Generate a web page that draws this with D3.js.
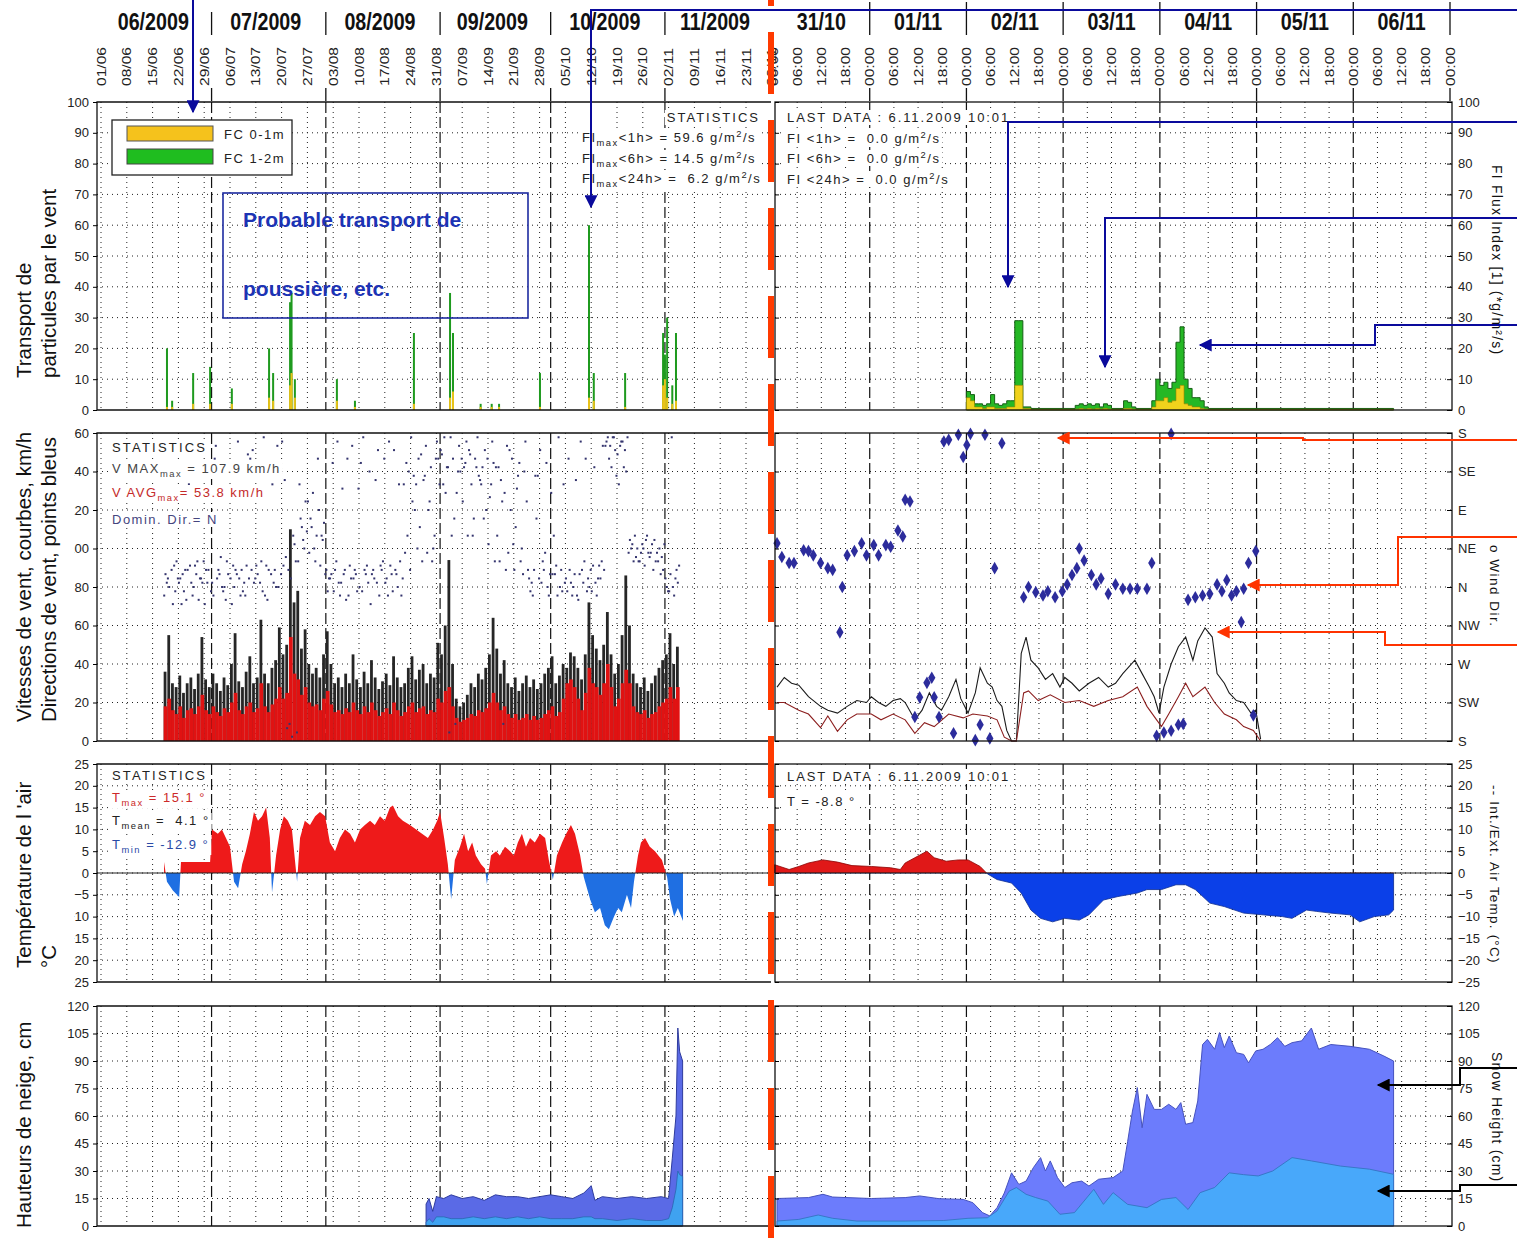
<!DOCTYPE html>
<html>
<head>
<meta charset="utf-8">
<title>Station - transport, vent, température, neige</title>
<script src="https://cdn.jsdelivr.net/npm/d3@7"></script>
<style>
  body     { margin: 0; background: #fff; }
  svg text { font-family: "Liberation Sans", Arial, sans-serif; white-space: pre; }
</style>
</head>
<body>
<script>

// ---------------------------------------------------------------- labels / ticks
var monthLabels   = ["06/2009", "07/2009", "08/2009", "09/2009", "10/2009", "11/2009"];
var dayLabels     = ["31/10", "01/11", "02/11", "03/11", "04/11", "05/11", "06/11"];
var fluxTicks     = [0, 10, 20, 30, 40, 50, 60, 70, 80, 90, 100];
var windTicks     = [0, 20, 40, 60, 80, 100, 120, 140, 160];
var dirTicks      = [0, 45, 90, 135, 180, 225, 270, 315, 360];
var dirLabels     = ["S", "SW", "W", "NW", "N", "NE", "E", "SE", "S"];
var tempTicks     = [-25, -20, -15, -10, -5, 0, 5, 10, 15, 20, 25];
var snowTicks     = [0, 15, 30, 45, 60, 75, 90, 105, 120];

// ---------------------------------------------------------------- left chart (days after 01/06/2009)
// flux index spikes
var fluxLeftDay   = [17.9, 19.3, 25.0, 29.6, 35.5, 45.6, 46.7, 51.3, 51.7, 52.6, 64.0, 68.9, 84.9, 94.7,
                     95.5, 103, 106, 108, 119.1, 132.4, 133.7, 142.2, 152.5, 153.0, 153.6, 155.0, 156.0];
var fluxLeftFC12  = [20, 3, 12, 14, 7, 20, 12, 35, 38, 10, 10, 3, 25, 38, 25, 2, 2, 2, 12, 60, 12, 12, 25, 18, 30, 8, 25];
var fluxLeftFC01  = [1, 1, 2, 2, 2, 4, 3, 8, 12, 4, 3, 1, 2, 4, 6, 1, 1, 1, 1, 4, 3, 1, 8, 10, 4, 2, 3];

// daily wind, first day = 18/06 (day 17)
var windStartDay  = 17;
var windMax = [
    36, 55, 30, 28, 34, 25, 30, 33, 27, 35,   54, 32, 28, 35, 30, 26, 33, 29, 40, 56,
    31, 28, 36, 44, 30, 33, 63, 35, 30, 38,   42, 59, 45, 50, 110, 72, 78, 48, 58, 40,
    35, 38, 33, 45, 57, 40, 30, 33, 28, 35,   30, 45, 32, 28, 36, 30, 42, 33, 27, 31,
    35, 29, 44, 33, 28, 30, 38, 44, 32, 37,   40, 30, 35, 33, 51, 45, 60, 94, 40, 22,
    18, 20, 24, 30, 28, 35, 32, 38, 45, 64,   48, 35, 42, 30, 28, 33, 26, 30, 34, 28,
    32, 27, 30, 35, 38, 44, 30, 34, 40, 38,   46, 44, 38, 32, 45, 72, 55, 48, 42, 50,
    67, 45, 35, 40, 55, 86, 60, 35, 30, 28,   33, 26, 30, 34, 38, 42, 45, 56, 40, 49];
var windAvg = [
    18, 22, 16, 14, 18, 12, 16, 17, 14, 18,   24, 16, 14, 18, 15, 13, 17, 15, 20, 25,
    16, 14, 18, 20, 15, 17, 30, 18, 15, 19,   22, 28, 22, 25, 54, 35, 32, 24, 28, 20,
    18, 19, 16, 22, 26, 19, 15, 16, 14, 17,   15, 20, 16, 14, 18, 15, 20, 16, 13, 15,
    17, 14, 20, 16, 13, 15, 18, 20, 15, 17,   18, 14, 16, 15, 22, 20, 26, 28, 18, 12,
    10, 11, 12, 14, 13, 16, 15, 17, 20, 25,   20, 16, 18, 14, 12, 14, 11, 12, 14, 11,
    13, 11, 12, 14, 16, 18, 13, 15, 22, 30,   32, 28, 22, 16, 25, 38, 30, 28, 24, 30,
    40, 28, 18, 22, 30, 37, 30, 18, 15, 14,   16, 12, 14, 15, 18, 20, 22, 28, 22, 28];
// wind direction (compass degrees), three readings a day
var dirMorning = [
    350, 10, 20, 355, 5, 15, 345, 25, 0, 30,      10, 340, 20, 5, 165, 15, 355, 30, 10, 0,
    170, 20, 350, 10, 160, 25, 5, 175, 345, 15,   20, 0, 170, 35, 200, 60, 190, 80, 45, 100,
    70, 30, 90, 55, 20, 10, 355, 170, 5, 20,      350, 165, 15, 0, 175, 25, 340, 10, 160, 20,
    5, 170, 355, 15, 30, 120, 60, 175, 90, 150,   30, 165, 100, 45, 170, 160, 175, 140, 60, 200,
    165, 100, 170, 155, 80, 175, 120, 160, 50, 170, 140, 30, 200, 165, 90, 20, 130, 45, 170, 10,
    350, 80, 160, 20, 0, 110, 15, 175, 355, 10,   20, 0, 350, 170, 30, 10, 355, 5, 25, 165,
    170, 165, 175, 155, 170, 160, 40, 50, 35, 30, 45, 60, 40, 55, 30, 35, 10, 355, 0, 20];
var dirNoon = [
    15, 0, 340, 30, 10, 355, 20, 5, 25, 345,      5, 20, 130, 350, 10, 35, 0, 15, 340, 20,
    10, 355, 25, 150, 5, 15, 30, 350, 20, 120,    0, 140, 25, 195, 10, 50, 30, 70, 100, 40,
    110, 60, 25, 75, 355, 15, 20, 5, 115, 345,    25, 10, 355, 145, 20, 5, 15, 125, 350, 30,
    10, 25, 160, 0, 350, 40, 135, 100, 120, 70,   125, 40, 140, 60, 150, 155, 110, 190, 150, 110,
    135, 140, 60, 120, 150, 130, 140, 90, 105, 145, 60, 125, 110, 40, 150, 70, 145, 15, 100, 355,
    20, 130, 5, 40, 350, 15, 25, 0, 120, 355,     5, 15, 345, 20, 150, 0, 25, 350, 10, 20,
    175, 140, 160, 120, 170, 135, 55, 30, 45, 40, 25, 40, 50, 30, 45, 20, 0, 15, 350, 5];
var dirEvening = [
    5, 140, 25, 10, 340, 20, 120, 350, 15, 10,    30, 5, 355, 150, 20, 0, 345, 130, 25, 15,
    350, 5, 155, 20, 10, 110, 355, 25, 140, 5,    165, 15, 125, 20, 185, 30, 120, 55, 65, 80,
    45, 150, 60, 15, 10, 145, 30, 350, 15, 150,   10, 20, 115, 355, 15, 135, 20, 5, 25, 150,
    350, 15, 20, 120, 10, 145, 20, 130, 45, 155,  130, 90, 30, 150, 120, 120, 140, 175, 80, 135,
    150, 145, 160, 60, 140, 125, 80, 150, 120, 30, 140, 100, 20, 160, 50, 115, 30, 135, 20, 5,
    130, 10, 30, 145, 15, 60, 350, 20, 5, 150,    350, 125, 15, 5, 355, 20, 140, 10, 30, 165,
    150, 175, 130, 165, 140, 175, 45, 60, 30, 50, 55, 35, 20, 40, 15, 50, 355, 175, 10, 25];

// air temperature
var tempLeftDay = [17.1, 17.9, 19.5, 21.2, 21.7, 29.6, 30.1, 31.7, 32.8, 33.9, 35.0, 36.1, 37.2, 38.3, 39.3,
    40.4, 41.5, 42.6, 43.7, 44.8, 45.8, 46.4, 47.5, 48.6, 49.6, 50.7, 51.8, 53.2, 54.0, 55.3, 56.7, 58.1,
    59.4, 60.8, 62.1, 63.5, 64.8, 66.2, 67.6, 68.9, 70.3, 71.6, 73.0, 74.3, 75.7, 77.0, 78.4, 79.2, 80.6,
    81.9, 83.8, 85.5, 87.1, 88.7, 90.1, 91.2, 92.0, 93.1, 94.1, 95.0, 96.0, 97.4, 98.5, 99.6, 100.7, 101.7,
    103.1, 104.2, 104.7, 105.8, 107.2, 108.2, 109.6, 111.0, 112.0, 113.1, 114.2, 115.3, 116.4, 117.7,
    119.1, 120.5, 121.5, 122.6, 123.7, 125.1, 126.2, 127.5, 128.6, 130.0, 131.0, 132.7, 134.0, 135.4,
    136.7, 137.8, 139.2, 140.3, 141.3, 142.7, 143.8, 144.6, 145.7, 146.5, 147.6, 148.9, 150.3, 152.2,
    153.6, 154.4, 155.5, 156.5, 157.9];
var tempLeftVal = [2.5, -2, -4, -5.5, 2.5, 2.5, 10, 9, 10, 8, 6, -2, -3.5, 2, 5,
    9, 14, 12, 13, 15, 8, -4.5, 4, 10, 13, 12, 10, -2, 8, 12, 11, 13,
    14, 13, 7, 5, 8, 10, 9, 7, 10, 11, 12, 11, 13, 12, 15, 15.5, 13,
    12, 11, 10, 9, 8, 10, 12, 14, 8, 2, -6, 3, 6, 9, 5, 7, 4,
    2, 1, -2.5, 4, 5, 4, 6, 5, 4, 7, 9, 6, 8, 7,
    9, 8, 3, -1.5, 4, 7, 9, 11, 9, 4, -1, -6, -9, -8,
    -12, -12.9, -10, -8, -9, -5, -8, -2, 4, 7, 8, 6, 5, 3,
    -1, -6, -10, -8, -11];

// snow heights
var snowLeftDay   = [88.2, 89, 90, 91, 93, 95, 98, 101, 104, 107, 110, 113, 116, 119, 122, 125, 128, 131,
                     133, 134, 136, 140, 144, 148, 152, 154, 155, 156, 156.5, 157, 157.8];
var snowLeftTotal = [12, 15, 8, 16, 15, 17, 15, 16, 14, 17, 16, 16, 15, 16, 17, 16, 15, 18,
                     22, 14, 16, 15, 16, 15, 16, 15, 37, 60, 108, 95, 90];
var snowLeftLower = [2, 4, 2, 5, 5, 4, 4, 5, 4, 5, 4, 5, 4, 5, 4, 4, 4, 5,
                     5, 4, 4, 3, 4, 3, 3, 4, 10, 20, 30, 28, 27];

// ---------------------------------------------------------------- right chart (hours after 31/10/2009 00:00)
var fluxRightHour = [48, 49, 50, 51, 52, 53, 54, 55, 56, 57, 58, 59, 60, 61, 62, 64,
                     75, 76, 77, 78, 79, 80, 81, 82, 83, 84, 87, 88, 89, 90,
                     94, 95, 96, 97, 98, 99, 100, 101, 102, 103, 104, 105, 106, 107, 108, 154];
var fluxRightFC12 = [6, 5, 2, 2, 1.5, 2, 5, 2, 1.5, 2, 3, 3, 29, 29, 1, 0.5,
                     1.5, 2, 1.5, 2, 1.5, 2, 1, 2, 1.5, 0.5, 3, 2.5, 1, 0.5,
                     3, 10, 8, 9, 7, 9, 22, 27, 10, 7, 4, 4, 3, 1, 0.5, 0];
var fluxRightFC01 = [4, 3, 1, 1, 0.5, 1, 1, 0.5, 0.5, 0.5, 1, 1, 8, 8, 0.5, 0.2,
                     0.3, 0.5, 0.3, 0.5, 0.3, 0.5, 0.3, 0.5, 0.3, 0.2, 0.5, 0.5, 0.3, 0.2,
                     1, 3, 3, 4, 2.5, 3, 7, 8, 2, 1.5, 1, 1, 0.5, 0.3, 0.2, 0];

var windRightHourMax = [1.0, 2.8, 4.6, 6.4, 7.6, 8.8, 11.8, 13.6, 16.0, 18.4, 20.8, 23.2, 24.4, 26.2, 28.0,
    29.8, 31.6, 32.8, 35.2, 37.0, 38.8, 40.6, 41.8, 43.6, 45.4, 46.6, 48.4, 50.2, 51.4, 53.2, 54.4, 55.6,
    56.8, 58.0, 59.2, 60.4, 61.6, 62.8, 64.0, 65.8, 67.6, 69.4, 71.2, 72.4, 74.2, 76.0, 78.4, 80.8, 83.2,
    85.0, 86.8, 89.8, 91.6, 93.4, 94.6, 95.8, 97.0, 98.8, 100.6, 102.4, 104.2, 105.4, 107.2, 109.0, 110.2,
    112.0, 113.2, 115.0, 116.8, 118.6, 119.8, 121.0];
var windRightMax = [28, 33, 30, 29, 26, 23, 18, 16, 14.5, 18, 21, 20, 23, 20, 18,
    21, 22, 20, 11, 16, 25, 18, 16, 23, 32, 22, 14.5, 25, 38, 30, 28, 21,
    18, 5.5, 0, 0, 45.5, 54, 42, 38, 32, 35, 28, 33, 30, 26, 30, 33, 28,
    30, 35, 42, 35, 28, 23, 14.5, 28, 40, 49, 54, 42, 52, 58.7, 54, 35,
    30, 25, 21, 20, 14.5, 16, 1];
var windRightHourAvg = [1.0, 2.8, 6.4, 8.8, 11.8, 13.6, 16.0, 18.4, 20.8, 24.4, 26.8, 29.8, 32.8, 35.2, 37.6,
    40.0, 43.6, 47.2, 49.6, 53.2, 55.6, 57.4, 59.2, 60.4, 62.2, 63.4, 65.8, 68.8, 72.4, 76.0, 79.6, 83.2,
    86.8, 90.4, 92.8, 95.2, 96.4, 98.2, 100.6, 102.4, 104.2, 107.2, 109.6, 112.0, 115.0, 116.8, 119.2, 121.0];
var windRightAvg = [20, 20, 16, 14, 7, 13, 5, 11, 14, 14, 11, 14, 11, 4, 9.5,
    7.5, 14, 12, 14, 13, 11, 2, 0, 0, 25, 26, 21, 24, 20, 21, 18, 21,
    23, 28, 18, 11, 7.5, 14, 23, 30, 23, 28, 20, 14, 11, 7.5, 5.5, 0];
var dirRightHour = [1.0, 2.2, 4.0, 5.2, 7.6, 8.8, 10.0, 11.8, 13.6, 14.8, 16.6, 17.2, 18.4, 20.2, 22.0,
    23.2, 25.0, 26.2, 28.0, 29.2, 31.0, 32.2, 32.8, 34.0, 35.2, 36.4, 38.2, 39.4, 40.0, 41.2,
    42.4, 43.6, 44.8, 46.0, 47.2, 48.1, 49.0, 50.2, 51.4, 52.6, 53.8, 55.0, 56.8, 62.2, 63.4,
    65.2, 67.0, 68.2, 70.0, 71.8, 73.0, 74.2, 75.4, 76.0, 77.2, 79.0, 80.2, 81.4, 83.2, 85.0,
    86.8, 88.6, 90.4, 92.8, 94.0, 95.2, 97.0, 98.8, 98.8, 100.6, 101.8, 103.0, 104.8, 106.6, 108.4,
    110.2, 111.4, 112.6, 113.8, 115.0, 116.2, 116.8, 118.0, 119.2, 119.8];
var dirRightDeg = [51, 35, 28, 28, 43, 42, 37, 28, 22, 20, 307, 0, 37, 42, 51,
    37, 49, 37, 49, 47, 66, 59, 102, 100, 208, 231, 248, 254, 231, 208,
    170, 172, 189, 178, 152, 166, 179, 181, 199, 178, 183, 22, 168, 348, 0,
    354, 350, 355, 348, 355, 3, 14, 22, 45, 31, 14, 3, 10, 352, 3,
    358, 358, 358, 358, 28, 186, 190, 179, 192, 199, 200, 345, 348, 350, 352,
    3, 355, 8, 350, 355, 319, 358, 28, 210, 42];

var tempRightHour = [0.4, 4.0, 6.4, 8.8, 12.4, 16.0, 19.6, 24.4, 29.2, 31.6, 32.8, 35.2, 38.2, 40.0, 43.0,
    46.0, 48.4, 51.4, 53.2, 55.6, 59.2, 61.6, 64.0, 66.4, 69.4, 72.4, 76.0, 78.4, 82.0, 85.6,
    90.4, 92.8, 96.4, 100.0, 102.4, 104.8, 108.4, 112.0, 116.8, 121.6, 126.4, 128.8, 132.4, 134.8, 138.4,
    143.2, 145.6, 149.2, 152.8, 154.0];
var tempRightVal = [1.9, 0.8, 1.5, 2.3, 3, 2.5, 1.7, 1.5, 1.2, 0.8, 2.3, 3.5, 5, 3.5, 2.7,
    3, 3, 1.5, -0.2, -1.5, -2.3, -4.6, -8.5, -10.4, -11.2, -10.4, -10.8, -9.6, -6.2, -5.4,
    -4.6, -3.8, -3.8, -2.7, -2.7, -3.8, -6.9, -7.7, -9.2, -9.6, -10, -10.4, -8.5, -8.8, -9.2,
    -9.6, -11.2, -10, -9.6, -8.5];

var snowRightHour = [1.0, 8.8, 12.4, 14.8, 24.4, 32.8, 36.4, 41.2, 47.2, 49.6, 52.0, 53.8, 55.6, 57.4, 59.2,
    61.0, 62.8, 64.6, 66.4, 67.6, 68.8, 70.6, 72.4, 74.2, 76.6, 78.4, 80.8, 84.4, 86.8, 88.0,
    89.2, 90.4, 91.6, 92.8, 94.6, 96.4, 98.2, 100.0, 101.2, 102.4, 104.2, 105.4, 106.6, 107.8, 109.6,
    110.8, 112.0, 113.2, 115.0, 116.8, 118.0, 119.8, 121.6, 123.4, 125.2, 127.0, 128.8, 131.2, 133.6, 135.4,
    138.4, 143.2, 148.0, 151.6, 154.0];
var snowRightTotal = [15, 15.5, 17.3, 15.8, 15, 15.5, 16.4, 14.9, 14.5, 12.7, 7.3, 5.5, 10, 18, 29,
    22.7, 24.5, 31.8, 37.3, 30, 35.5, 26.4, 21, 23.6, 24.5, 21.8, 25.5, 26.4, 30, 46,
    62.7, 75.5, 53.6, 71.8, 63.6, 63.6, 66.4, 63.6, 67.3, 55.5, 56.4, 68.2, 99, 101.8, 96.4,
    105.5, 97.3, 103.6, 94.5, 93.6, 89, 95.5, 96.4, 99, 102.7, 98, 100, 101, 108, 96.4,
    99, 98, 96.4, 92.7, 90];
var snowRightLowHour = [1.0, 6.4, 11.2, 14.8, 20.8, 32.8, 42.4, 48.4, 53.2, 55.6, 58.6, 60.4, 62.8, 65.2, 68.2,
    71.2, 74.8, 79.6, 82.0, 84.4, 88.0, 92.8, 96.4, 100.0, 103.0, 106.0, 109.6, 113.2, 116.8, 120.4,
    124.0, 128.8, 133.6, 140.8, 148.0, 154.0];
var snowRightLower = [2.7, 3.6, 6, 4.2, 2.7, 2.7, 3, 4.2, 4.5, 8.2, 19, 21, 17.3, 15.5, 13.6,
    6.4, 7.3, 20, 11.8, 18.2, 11.8, 10, 14.5, 15.5, 9, 18.2, 21, 29, 28, 27.3,
    30, 37.3, 35.5, 32.7, 31, 28.2];

// ---------------------------------------------------------------- geometry / scales
var W = 1517, H = 1239;
var LX0 = 97,  LX1 = 771;      // left plot
var RX0 = 775, RX1 = 1452;     // right plot

var t0L  = new Date(2009, 5, 1);
var t0R  = new Date(2009, 9, 31);
var dayL  = function(d) { return new Date(+t0L + d * 864e5); };
var hourR = function(h) { return new Date(+t0R + h * 36e5); };

var xL = d3.scaleTime().domain([t0L, new Date(2009, 11, 1)]).range([101, 775.5]);
var xR = d3.scaleTime().domain([t0R, new Date(2009, 10, 7)]).range([773, 1450]);

var yFlux = d3.scaleLinear().domain([0, 100]).range([410, 102]);
var yWind = d3.scaleLinear().domain([0, 160]).range([741, 433]);
var yDir  = d3.scaleLinear().domain([0, 360]).range([741, 433]);
var yTemp = d3.scaleLinear().domain([-25, 25]).range([982, 764]);
var ySnow = d3.scaleLinear().domain([0, 120]).range([1226, 1006]);

var dirPos = function(deg) { return (deg + 180) % 360; };   // S at the bottom, N in the middle

var weekTicks    = d3.timeMonday.range(t0L, new Date(2009, 11, 1));
var monthTicks   = d3.timeMonth.range(new Date(2009, 6, 1), new Date(2009, 11, 1));
var sixHourTicks = d3.timeHour.every(6).range(t0R, new Date(2009, 10, 7, 1));
var dayTicks     = d3.timeDay.range(new Date(2009, 10, 1), new Date(2009, 10, 7, 1));

var svg = d3.select("body").append("svg")
    .attr("width", W).attr("height", H).style("display", "block");
svg.append("rect").attr("width", W).attr("height", H).attr("fill", "#fff");

var defs = svg.append("defs");
defs.append("clipPath").attr("id", "tPos").append("rect")
    .attr("x", 0).attr("y", yTemp(25)).attr("width", W).attr("height", yTemp(0) - yTemp(25));
defs.append("clipPath").attr("id", "tNeg").append("rect")
    .attr("x", 0).attr("y", yTemp(0)).attr("width", W).attr("height", yTemp(-25) - yTemp(0));
[["aBlue", "#0a0a9c"], ["aRed", "#ff3300"], ["aBlack", "#000"]].forEach(function(m) {
    defs.append("marker").attr("id", m[0]).attr("viewBox", "0 0 10 10")
        .attr("refX", 9).attr("refY", 5).attr("markerWidth", 16).attr("markerHeight", 13)
        .attr("markerUnits", "userSpaceOnUse").attr("orient", "auto")
        .append("path").attr("d", "M0,0L10,5L0,10Z").attr("fill", m[1]);
});

// ---------------------------------------------------------------- grids
function drawGrid(side, y, ticks, top, bottom) {
    var g      = svg.append("g");
    var x0     = side == "L" ? LX0 : RX0;
    var x1     = side == "L" ? LX1 : RX1;
    var x      = side == "L" ? xL : xR;
    var minor  = side == "L" ? weekTicks : sixHourTicks;
    var major  = side == "L" ? monthTicks : dayTicks;
    var majSet = new Set(major.map(function(d) { return +d; }));

    ticks.forEach(function(t) {
        var yy = y(t);
        if (yy <= top + 1 || yy >= bottom - 1) return;
        g.append("line").attr("x1", x0).attr("x2", x1).attr("y1", yy).attr("y2", yy)
            .attr("stroke", "#222").attr("stroke-dasharray", "1,4");
    });
    minor.forEach(function(t) {
        var xx = x(t);
        if (majSet.has(+t) || xx <= x0 + 2 || xx >= x1 - 2) return;
        g.append("line").attr("x1", xx).attr("x2", xx).attr("y1", top).attr("y2", bottom)
            .attr("stroke", "#222").attr("stroke-dasharray", "1,4");
    });
    major.forEach(function(t) {
        var xx = x(t);
        if (xx <= x0 + 2 || xx >= x1 - 2) return;
        g.append("line").attr("x1", xx).attr("x2", xx).attr("y1", top).attr("y2", bottom)
            .attr("stroke", "#111").attr("stroke-width", 1.2).attr("stroke-dasharray", "11,4");
    });
}

var panels = [
    {y: yFlux, ticks: fluxTicks, top: 102,  bottom: 410},
    {y: yWind, ticks: windTicks, top: 433,  bottom: 741},
    {y: yTemp, ticks: tempTicks, top: 764,  bottom: 982},
    {y: ySnow, ticks: snowTicks, top: 1006, bottom: 1226}
];
panels.forEach(function(p) {
    drawGrid("L", p.y, p.ticks, p.top, p.bottom);
    drawGrid("R", p.y, p.ticks, p.top, p.bottom);
});

// ---------------------------------------------------------------- panel 1 : flux index
var fluxLeft = fluxLeftDay.map(function(d, i) {
    return {t: dayL(d), fc12: fluxLeftFC12[i], fc01: fluxLeftFC01[i]};
});
var gFL = svg.append("g");
gFL.selectAll(".g12").data(fluxLeft).join("rect")
    .attr("x", function(d) { return xL(d.t) - 1; }).attr("width", 2)
    .attr("y", function(d) { return yFlux(d.fc12); })
    .attr("height", function(d) { return yFlux(0) - yFlux(d.fc12); })
    .attr("fill", "#1f9a1f");
gFL.selectAll(".g01").data(fluxLeft).join("rect")
    .attr("x", function(d) { return xL(d.t) - 1; }).attr("width", 2)
    .attr("y", function(d) { return yFlux(d.fc01); })
    .attr("height", function(d) { return yFlux(0) - yFlux(d.fc01); })
    .attr("fill", "#e8c21a");

var fluxRight = fluxRightHour.map(function(h, i) {
    return {t: hourR(h), fc12: fluxRightFC12[i], fc01: fluxRightFC01[i]};
});
svg.append("path").datum(fluxRight)
    .attr("d", d3.area().curve(d3.curveStepAfter)
        .x(function(d) { return xR(d.t); }).y0(yFlux(0)).y1(function(d) { return yFlux(d.fc12); }))
    .attr("fill", "#25b825").attr("stroke", "#155f15").attr("stroke-width", 1);
svg.append("path").datum(fluxRight)
    .attr("d", d3.area().curve(d3.curveStepAfter)
        .x(function(d) { return xR(d.t); }).y0(yFlux(0)).y1(function(d) { return yFlux(d.fc01); }))
    .attr("fill", "#f0d21c").attr("stroke", "#9a8200").attr("stroke-width", 0.6);

// ---------------------------------------------------------------- panel 2 : wind
var windLeft = windMax.map(function(v, i) {
    return {d: windStartDay + i, max: v, avg: windAvg[i]};
});
var gW = svg.append("g");
gW.selectAll(".bmax").data(windLeft).join("rect")
    .attr("x", function(d) { return xL(dayL(d.d)); })
    .attr("width", 2.8)
    .attr("y", function(d) { return yWind(d.max); })
    .attr("height", function(d) { return yWind(0) - yWind(d.max); })
    .attr("fill", "#262626");
gW.selectAll(".bavg").data(windLeft).join("rect")
    .attr("x", function(d) { return xL(dayL(d.d)); })
    .attr("width", function(d) { return xL(dayL(d.d + 1)) - xL(dayL(d.d)); })
    .attr("y", function(d) { return yWind(d.avg); })
    .attr("height", function(d) { return yWind(0) - yWind(d.avg); })
    .attr("fill", "#e01212");

var dirDots = [];
[[dirMorning, 0.15], [dirNoon, 0.5], [dirEvening, 0.85]].forEach(function(s) {
    s[0].forEach(function(deg, i) { dirDots.push({t: dayL(windStartDay + i + s[1]), deg: deg}); });
});
gW.selectAll(".dot").data(dirDots).join("rect")
    .attr("x", function(d) { return xL(d.t) - 1; })
    .attr("y", function(d) { return yDir(dirPos(d.deg)) - 1; })
    .attr("width", 2).attr("height", 2)
    .attr("fill", "#34346e");

var windMaxR = windRightHourMax.map(function(h, i) { return {t: hourR(h), v: windRightMax[i]}; });
var windAvgR = windRightHourAvg.map(function(h, i) { return {t: hourR(h), v: windRightAvg[i]}; });
var windLine = d3.line().x(function(d) { return xR(d.t); }).y(function(d) { return yWind(d.v); });
svg.append("path").datum(windMaxR).attr("d", windLine)
    .attr("fill", "none").attr("stroke", "#1b1b1b").attr("stroke-width", 1.1);
svg.append("path").datum(windAvgR).attr("d", windLine)
    .attr("fill", "none").attr("stroke", "#8c1f1f").attr("stroke-width", 1.1);

var dirRight = dirRightHour.map(function(h, i) { return {t: hourR(h), deg: dirRightDeg[i]}; });
svg.append("g").selectAll("path").data(dirRight).join("path")
    .attr("transform", function(d) { return "translate(" + xR(d.t) + "," + yDir(dirPos(d.deg)) + ")"; })
    .attr("d", d3.symbol().type(d3.symbolDiamond).size(46))
    .attr("fill", "#2c2c9c");

// ---------------------------------------------------------------- panel 3 : temperature
var tempLeft  = tempLeftDay.map(function(d, i) { return {t: dayL(d), v: tempLeftVal[i]}; });
var tempRight = tempRightHour.map(function(h, i) { return {t: hourR(h), v: tempRightVal[i]}; });
var tAreaL = d3.area().x(function(d) { return xL(d.t); }).y0(yTemp(0)).y1(function(d) { return yTemp(d.v); });
var tAreaR = d3.area().x(function(d) { return xR(d.t); }).y0(yTemp(0)).y1(function(d) { return yTemp(d.v); });

svg.append("path").datum(tempLeft).attr("d", tAreaL).attr("clip-path", "url(#tPos)")
    .attr("fill", "#ee1a1a");
svg.append("path").datum(tempLeft).attr("d", tAreaL).attr("clip-path", "url(#tNeg)")
    .attr("fill", "#1f6fe2");
svg.append("path").datum(tempRight).attr("d", tAreaR).attr("clip-path", "url(#tPos)")
    .attr("fill", "#e01818").attr("stroke", "#8a0000").attr("stroke-width", 0.8);
svg.append("path").datum(tempRight).attr("d", tAreaR).attr("clip-path", "url(#tNeg)")
    .attr("fill", "#0b40e8").attr("stroke", "#0a2a90").attr("stroke-width", 0.8);

[[LX0, LX1], [RX0, RX1]].forEach(function(r) {
    svg.append("line").attr("x1", r[0]).attr("x2", r[1]).attr("y1", yTemp(0)).attr("y2", yTemp(0))
        .attr("stroke", "#222").attr("stroke-width", 1.2);
});

// ---------------------------------------------------------------- panel 4 : snow heights
var snowLeft   = snowLeftDay.map(function(d, i) { return {t: dayL(d), tot: snowLeftTotal[i], low: snowLeftLower[i]}; });
var snowRightT = snowRightHour.map(function(h, i) { return {t: hourR(h), v: snowRightTotal[i]}; });
var snowRightL = snowRightLowHour.map(function(h, i) { return {t: hourR(h), v: snowRightLower[i]}; });

svg.append("path").datum(snowLeft)
    .attr("d", d3.area().x(function(d) { return xL(d.t); }).y0(ySnow(0)).y1(function(d) { return ySnow(d.tot); }))
    .attr("fill", "#5a6ae6").attr("stroke", "#2f3c9e").attr("stroke-width", 1);
svg.append("path").datum(snowLeft)
    .attr("d", d3.area().x(function(d) { return xL(d.t); }).y0(ySnow(0)).y1(function(d) { return ySnow(d.low); }))
    .attr("fill", "#3fa2f0").attr("stroke", "#2a66b0").attr("stroke-width", 0.8);

var sAreaR = d3.area().x(function(d) { return xR(d.t); }).y0(ySnow(0)).y1(function(d) { return ySnow(d.v); });
svg.append("path").datum(snowRightT).attr("d", sAreaR)
    .attr("fill", "#6c7cfc").attr("stroke", "#4652bf").attr("stroke-width", 1);
svg.append("path").datum(snowRightL).attr("d", sAreaR)
    .attr("fill", "#48a8fa").attr("stroke", "#3474c2").attr("stroke-width", 0.9);

// ---------------------------------------------------------------- frames and axes
function styleAxis(g) {
    g.attr("font-family", "Liberation Sans, Arial, sans-serif").attr("font-size", 13);
    g.select(".domain").remove();
    g.selectAll("text").attr("fill", "#222");
}
panels.forEach(function(p, k) {
    var f = svg.append("g").attr("fill", "none").attr("stroke", "#111").attr("stroke-width", 1.3);
    f.append("path").attr("d", "M" + LX1 + "," + p.top + "H" + LX0 + "V" + p.bottom + "H" + LX1);
    f.append("rect").attr("x", RX0).attr("y", p.top).attr("width", RX1 - RX0).attr("height", p.bottom - p.top);

    svg.append("g").attr("transform", "translate(" + LX0 + ",0)")
        .call(d3.axisLeft(p.y).tickValues(p.ticks).tickSize(4).tickPadding(4)).call(styleAxis);

    var rAxis = k == 1
        ? d3.axisRight(yDir).tickValues(dirTicks).tickFormat(function(d, i) { return dirLabels[i]; })
        : d3.axisRight(p.y).tickValues(p.ticks);
    svg.append("g").attr("transform", "translate(" + RX1 + ",0)")
        .call(rAxis.tickSize(-5).tickPadding(6)).call(styleAxis);

    svg.append("g").attr("transform", "translate(" + RX0 + ",0)")
        .call(d3.axisRight(p.y).tickValues(p.ticks).tickSize(4).tickFormat("")).call(styleAxis);
});

// ---------------------------------------------------------------- texts in the panels
function label(x, y, parts, opt) {
    opt = opt || {};
    var size = opt.size || 13;
    var t = svg.append("text").attr("x", x).attr("y", y)
        .attr("font-size", size).attr("fill", opt.color || "#222");
    if (opt.spacing) t.attr("letter-spacing", opt.spacing);
    if (opt.anchor)  t.attr("text-anchor", opt.anchor);
    var shift = 0;
    parts.forEach(function(p) {
        var s    = typeof p == "string" ? {t: p} : p;
        var want = s.sub ? 4 : (s.sup ? -5 : 0);
        var ts   = t.append("tspan").text(s.t).attr("dy", want - shift);
        if (s.sub || s.sup) ts.attr("font-size", size * 0.72);
        shift = want;
    });
    if (opt.bg) {
        // statistics lines sit on a white strip, the grid stops behind them
        var bb = t.node().getBBox();
        svg.insert("rect", function() { return t.node(); })
            .attr("x", bb.x - 2).attr("y", bb.y).attr("width", bb.width + 4).attr("height", bb.height)
            .attr("fill", "#fff");
    }
    return t;
}

// flux statistics
label(760, 122, ["STATISTICS"], {anchor: "end", spacing: 2, bg: 1});
label(582, 142, ["FI", {t: "max", sub: 1}, "<1h> = 59.6 g/m", {t: "2", sup: 1}, "/s"], {spacing: 1.5, bg: 1});
label(582, 163, ["FI", {t: "max", sub: 1}, "<6h> = 14.5 g/m", {t: "2", sup: 1}, "/s"], {spacing: 1.5, bg: 1});
label(582, 183, ["FI", {t: "max", sub: 1}, "<24h> =  6.2 g/m", {t: "2", sup: 1}, "/s"], {spacing: 1.5, bg: 1});
label(787, 122, ["LAST DATA : 6.11.2009 10:01"], {spacing: 1.9, bg: 1});
label(787, 143, ["FI <1h> =  0.0 g/m", {t: "2", sup: 1}, "/s"], {spacing: 1.5, bg: 1});
label(787, 163, ["FI <6h> =  0.0 g/m", {t: "2", sup: 1}, "/s"], {spacing: 1.5, bg: 1});
label(787, 184, ["FI <24h> =  0.0 g/m", {t: "2", sup: 1}, "/s"], {spacing: 1.5, bg: 1});

// legend
var leg = svg.append("g");
leg.append("rect").attr("x", 112).attr("y", 120).attr("width", 180).attr("height", 55)
    .attr("fill", "#fff").attr("stroke", "#222").attr("stroke-width", 1.3);
leg.append("rect").attr("x", 127).attr("y", 126).attr("width", 86).attr("height", 15)
    .attr("fill", "#f5c21c").attr("stroke", "#555");
leg.append("rect").attr("x", 127).attr("y", 149).attr("width", 86).attr("height", 15)
    .attr("fill", "#1fbd1f").attr("stroke", "#444");
label(224, 139, ["FC 0-1m"], {spacing: 1.5});
label(224, 163, ["FC 1-2m"], {spacing: 1.5});

// wind statistics
label(112, 452, ["STATISTICS"], {spacing: 2.2, bg: 1});
label(112, 473, ["V MAX", {t: "max", sub: 1}, " = 107.9 km/h"], {color: "#444", spacing: 1.5, bg: 1});
label(112, 497, ["V AVG", {t: "max", sub: 1}, "= 53.8 km/h"], {color: "#c42a2a", spacing: 1.5, bg: 1});
label(112, 524, ["Domin. Dir.= N"], {color: "#45457e", spacing: 1.5, bg: 1});

// temperature statistics
label(112, 780, ["STATISTICS"], {spacing: 2.2, bg: 1});
label(112, 802, ["T", {t: "max", sub: 1}, " = 15.1 °"], {color: "#cc2a2a", spacing: 1.5, bg: 1});
label(112, 825, ["T", {t: "mean", sub: 1}, " =  4.1 °"], {color: "#222", spacing: 1.5, bg: 1});
label(112, 849, ["T", {t: "min", sub: 1}, " = -12.9 °"], {color: "#2a4aa6", spacing: 1.5, bg: 1});
label(787, 781, ["LAST DATA : 6.11.2009 10:01"], {spacing: 1.9, bg: 1});
label(787, 806, ["T = -8.8 °"], {spacing: 1.5, bg: 1});

// annotation box
svg.append("rect").attr("x", 223).attr("y", 193).attr("width", 305).attr("height", 125)
    .attr("fill", "none").attr("stroke", "#1d2ba0").attr("stroke-width", 1.6);
label(243, 227, ["Probable transport de"], {size: 21, color: "#1c33b4"}).attr("font-weight", "bold");
label(243, 296, ["poussière, etc."], {size: 21, color: "#1c33b4"}).attr("font-weight", "bold");

// ---------------------------------------------------------------- axis titles
svg.append("rect").attr("x", 0).attr("y", 425).attr("width", 74).attr("height", 322).attr("fill", "#fff");
svg.append("rect").attr("x", 0).attr("y", 756).attr("width", 74).attr("height", 232).attr("fill", "#fff");

function vTitle(x, y, text, rot, size, spacing) {
    var t = svg.append("text").attr("transform", "translate(" + x + "," + y + ") rotate(" + rot + ")")
        .attr("font-size", size).attr("fill", "#111").text(text);
    if (spacing) t.attr("letter-spacing", spacing);
}
vTitle(31, 378,  "Transport de", -90, 20.5);
vTitle(56, 378,  "particules par le vent", -90, 20.5);
vTitle(31, 722,  "Vitesses de vent, courbes, km/h", -90, 20.5);
vTitle(56, 722,  "Directions de vent, points bleus", -90, 20.5);
vTitle(31, 968,  "Température de l 'air", -90, 20.5);
vTitle(56, 968,  "°C", -90, 20.5);
vTitle(31, 1228, "Hauteurs de neige, cm", -90, 20.5);

vTitle(1492, 165,  "FI Flux Index [1] (*g/m²/s)", 90, 14, 1.2);
vTitle(1490, 545,  "o Wind Dir.", 90, 13.5, 1.5);
vTitle(1490, 785,  "-- Int./Ext. Air Temp. (°C)", 90, 13.5, 1.2);
vTitle(1492, 1052, "Snow Height (cm)", 90, 14, 1.2);

// ---------------------------------------------------------------- header
var hd = svg.append("g");
var fmtWeek = d3.timeFormat("%d/%m");
var fmtHour = d3.timeFormat("%H:%M");

d3.timeMonth.range(t0L, new Date(2009, 11, 1)).forEach(function(m, i) {
    var a = Math.max(xL(m), LX0), b = Math.min(xL(d3.timeMonth.offset(m, 1)), LX1);
    hd.append("text").attr("transform", "translate(" + ((a + b) / 2 - 3) + ",30) scale(0.82,1)")
        .attr("text-anchor", "middle").attr("font-size", 24).attr("font-weight", "bold")
        .attr("fill", "#111").text(monthLabels[i]);
});
dayLabels.forEach(function(lbl, i) {
    var a = xR(d3.timeDay.offset(t0R, i)), b = xR(d3.timeDay.offset(t0R, i + 1));
    hd.append("text").attr("transform", "translate(" + ((a + b) / 2) + ",30) scale(0.82,1)")
        .attr("text-anchor", "middle").attr("font-size", 24).attr("font-weight", "bold")
        .attr("fill", "#111").text(lbl);
});
monthTicks.forEach(function(m) {
    var xx = xL(m);
    hd.append("line").attr("x1", xx).attr("x2", xx).attr("y1", 12).attr("y2", 35).attr("stroke", "#111").attr("stroke-width", 1.3);
    hd.append("line").attr("x1", xx).attr("x2", xx).attr("y1", 88).attr("y2", 101).attr("stroke", "#111").attr("stroke-width", 1.3);
});
dayTicks.forEach(function(d) {
    var xx = xR(d);
    hd.append("line").attr("x1", xx).attr("x2", xx).attr("y1", 2).attr("y2", 35).attr("stroke", "#111").attr("stroke-width", 1.3);
    hd.append("line").attr("x1", xx).attr("x2", xx).attr("y1", 88).attr("y2", 101).attr("stroke", "#111").attr("stroke-width", 1.3);
});
hd.selectAll(".wk").data(weekTicks).join("text")
    .attr("transform", function(d) { return "translate(" + (xL(d) + 4.5) + ",86) rotate(-90) scale(1.3,1)"; })
    .attr("font-size", 12).attr("fill", "#222").text(fmtWeek);
hd.selectAll(".hr").data(sixHourTicks).join("text")
    .attr("transform", function(d) { return "translate(" + (xR(d) + 4.5) + ",86) rotate(-90) scale(1.3,1)"; })
    .attr("font-size", 12).attr("fill", "#222").text(fmtHour);

// ---------------------------------------------------------------- arrows
function arrow(d, color, marker) {
    svg.append("path").attr("d", d).attr("fill", "none").attr("stroke", color)
        .attr("stroke-width", 2).attr("marker-end", "url(#" + marker + ")");
}
arrow("M193,0V112",                     "#0a0a9c", "aBlue");
arrow("M1517,10H591V207",               "#0a0a9c", "aBlue");
arrow("M1517,122H1008V287",             "#0a0a9c", "aBlue");
arrow("M1517,218H1105V367",             "#0a0a9c", "aBlue");
arrow("M1517,325H1375V345H1200",        "#0a0a9c", "aBlue");
arrow("M1517,440H1303V438H1058",        "#ff3300", "aRed");
arrow("M1517,537H1398V585H1248",        "#ff3300", "aRed");
arrow("M1517,645H1385V632H1218",        "#ff3300", "aRed");
arrow("M1517,1068H1460V1085H1378",      "#000",    "aBlack");
arrow("M1517,1185H1460V1191H1378",      "#000",    "aBlack");

// red dashed separator between the two charts
svg.append("line").attr("x1", 771).attr("x2", 771).attr("y1", 0).attr("y2", H)
    .attr("stroke", "#ff3a00").attr("stroke-width", 6)
    .attr("stroke-dasharray", "62,26").attr("stroke-dashoffset", 56);

</script>
</body>
</html>
